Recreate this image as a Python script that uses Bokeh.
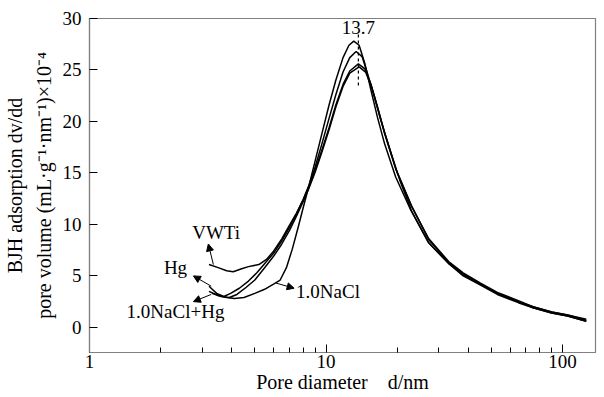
from bokeh.plotting import figure
from bokeh.models import FixedTicker, Arrow, NormalHead, Label, Range1d
from bokeh.embed import file_html
from bokeh.resources import INLINE

# ---- data ----
d_nacl = [3.2, 3.5, 3.8, 4.1, 4.5, 5.0, 5.5, 6.0, 6.4, 6.8, 7.2, 7.6, 8.0, 8.5, 9.0, 9.6, 10.3, 11.0, 11.8, 12.5,
          13.1, 13.8, 14.6, 15.5, 16.5, 17.7, 19.7, 22.8, 27.2, 33, 38, 45, 53, 65, 75, 90, 105, 126]
v_nacl = [3.5, 3.1, 2.9, 2.8, 2.9, 3.3, 3.7, 4.2, 4.6, 5.8, 7.6, 9.6, 11.6, 13.9, 16.2, 18.8, 21.6, 24.0, 26.2, 27.4,
          27.8, 27.4, 25.6, 23.0, 20.4, 17.8, 14.6, 11.4, 8.2, 6.2, 5.0, 4.1, 3.2, 2.4, 1.9, 1.4, 1.1, 0.6]

d_vwti = [3.2, 3.5, 3.8, 4.05, 4.4, 4.7, 5.2, 5.6, 6.0, 6.5, 7.0, 7.5, 8.0, 8.5, 9.0, 9.6, 10.3, 11.0, 11.8, 12.6,
          13.4, 14.2, 15.0, 16.0, 17.0, 18.5, 20.5, 23, 27, 33, 38, 45, 53, 65, 75, 90, 105, 126]
v_vwti = [6.1, 5.8, 5.5, 5.4, 5.7, 5.9, 6.1, 6.6, 7.4, 8.6, 9.9, 11.1, 12.4, 13.9, 15.6, 17.8, 20.3, 22.6, 24.8, 26.2,
          26.8, 26.3, 24.6, 22.4, 20.2, 17.5, 14.3, 11.3, 8.3, 6.2, 5.1, 4.2, 3.3, 2.5, 2.0, 1.5, 1.2, 0.7]

d_hg = [3.2, 3.45, 3.7, 3.95, 4.3, 4.7, 5.1, 5.6, 6.0, 6.5, 7.0, 7.5, 8.0, 8.5, 9.0, 9.6, 10.3, 11.0, 11.8, 12.6,
        13.7, 14.6, 15.5, 16.5, 17.7, 19.7, 22.8, 27.2, 33, 38, 45, 53, 65, 75, 90, 105, 126]
v_hg = [4.0, 3.3, 3.0, 3.3, 3.8, 4.5, 5.3, 6.4, 7.2, 8.4, 9.7, 11.0, 12.4, 13.8, 15.3, 17.2, 19.4, 21.6, 23.6, 24.9,
        25.6, 25.1, 23.6, 21.4, 18.8, 15.4, 11.9, 8.6, 6.4, 5.3, 4.3, 3.4, 2.6, 2.0, 1.5, 1.2, 0.8]

d_nacl_hg = [3.3, 3.6, 3.9, 4.2, 4.6, 5.0, 5.5, 6.0, 6.5, 7.0, 7.5, 8.0, 8.5, 9.0, 9.6, 10.3, 11.0, 11.8, 12.6,
             13.8, 14.7, 15.6, 16.6, 17.8, 19.8, 23, 27.2, 33, 38, 45, 53, 65, 75, 90, 105, 126]
v_nacl_hg = [3.3, 3.0, 2.9, 3.2, 3.9, 4.6, 5.8, 6.9, 8.1, 9.4, 10.8, 12.2, 13.6, 15.1, 17.0, 19.2, 21.4, 23.4, 24.7,
             25.3, 24.8, 23.3, 21.2, 18.7, 15.3, 11.8, 8.5, 6.3, 5.2, 4.2, 3.3, 2.5, 1.9, 1.4, 1.1, 0.6]

peak_d = 13.7
peak_span = [23.5, 28.6]

x_major = [1, 10, 100]
x_minor = [2, 3, 4, 5, 6, 7, 8, 9, 20, 30, 40, 50, 60, 70, 80, 90]
y_major = [0, 5, 10, 15, 20, 25, 30]

# labels: (text, text x, text y, align, arrow from (x,y), arrow to (x,y))
labels = [
    ("VWTi", 3.43, 9.2, "center", (3.34, 6.1), (3.18, 8.1)),
    ("Hg", 2.31, 5.85, "center", (3.27, 4.0), (2.75, 5.0)),
    ("1.0NaCl+Hg", 2.31, 1.56, "center", (3.27, 3.2), (2.75, 2.5)),
    ("1.0NaCl", 7.47, 3.5, "left", (6.15, 4.3), (7.33, 3.8)),
]

FONT = "Liberation Serif"

p = figure(width=600, height=397, x_axis_type="log", output_backend="svg", toolbar_location=None,
           x_range=Range1d(1, 137.8), y_range=Range1d(-2.44, 30),
           min_border_left=88, min_border_right=5, min_border_top=18, min_border_bottom=45)
p.grid.visible = False
p.outline_line_color = "#808080"
p.outline_line_width = 1.2
p.background_fill_color = "white"
p.border_fill_color = "white"

for xs, ys in [(d_nacl, v_nacl), (d_vwti, v_vwti), (d_hg, v_hg), (d_nacl_hg, v_nacl_hg)]:
    p.line(xs, ys, line_color="black", line_width=1.5)

p.line([peak_d, peak_d], peak_span, line_color="black", line_width=1.2, line_dash="3 3")
p.add_layout(Label(x=peak_d, y=29.1, text="13.7", text_align="center", text_baseline="middle",
                   text_font=FONT, text_font_size="19px", text_color="black"))

for txt, tx, ty, al, (fx, fy), (hx, hy) in labels:
    p.add_layout(Label(x=tx, y=ty, text=txt, text_align=al, text_baseline="middle",
                       text_font=FONT, text_font_size="19px", text_color="black"))
    p.add_layout(Arrow(x_start=fx, y_start=fy, x_end=hx, y_end=hy, line_width=1, line_color="black",
                       end=NormalHead(size=7, fill_color="black", line_color="black")))

xa = p.xaxis[0]
xa.ticker = FixedTicker(ticks=x_major, minor_ticks=x_minor)
xa.major_label_overrides = {1: "1", 10: "10", 100: "100"}
xa.axis_label = "Pore diameter\u00a0\u00a0\u00a0 d/nm"
ya = p.yaxis[0]
ya.ticker = FixedTicker(ticks=y_major)
ya.axis_label = "BJH adsorption dv/dd\npore volume (mL\u00b7g\u207b\u00b9\u00b7nm\u207b\u00b9)\u00d710\u207b\u2074"

for ax in (xa, ya):
    ax.axis_line_color = "#808080"
    ax.axis_line_width = 1.2
    ax.major_tick_in = 8
    ax.major_tick_out = 0
    ax.minor_tick_in = 5
    ax.minor_tick_out = 0
    ax.major_tick_line_color = "black"
    ax.minor_tick_line_color = "black"
    ax.major_label_text_font = FONT
    ax.major_label_text_font_size = "19px"
    ax.major_label_text_color = "black"
    ax.axis_label_text_font = FONT
    ax.axis_label_text_font_size = "20px"
    ax.axis_label_text_font_style = "normal"
    ax.axis_label_text_color = "black"
ya.axis_label_text_line_height = 1.3
xa.major_label_standoff = 2
xa.axis_label_standoff = 0
ya.major_label_standoff = 8
ya.axis_label_standoff = 5

open("out.html", "w").write(file_html(p, INLINE))
